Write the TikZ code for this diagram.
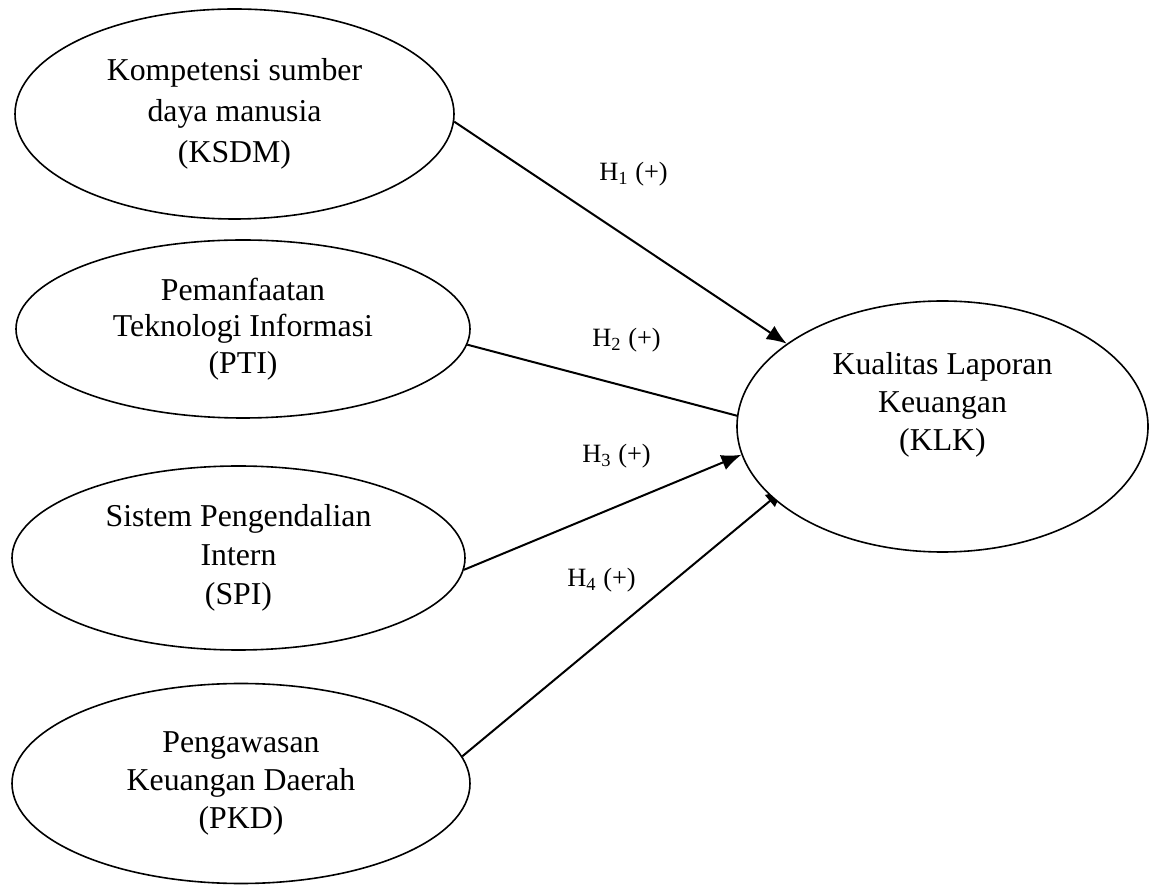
\documentclass[tikz,border=0pt]{standalone}
\usepackage{fontspec}
\setmainfont{Liberation Serif}
\usetikzlibrary{shapes.geometric,arrows.meta,calc,backgrounds}
\begin{document}
\begin{tikzpicture}[x=0.5pt,y=-0.5pt,
  var/.style={ellipse,draw,line width=0.8pt,fill=white,inner sep=0pt,align=center,font=\fontsize{15.9}{19.5}\selectfont},
  hyp/.style={-{Latex[length=10pt,width=8pt]},line width=1pt},
  hlabel/.style={anchor=base west,inner sep=0pt,font=\fontsize{13.2}{15}\selectfont},
  ktext/.style={inner sep=0pt,align=center,font=\fontsize{15.9}{19}\selectfont}]
\useasboundingbox (0,0) rectangle (1151,886);
\node[var,minimum width=219.5pt,minimum height=105pt,font=\fontsize{15.9}{20.5}\selectfont] (ksdm) at (234.5,114) {Kompetensi sumber\\daya manusia\\(KSDM)};
\node[var,minimum width=227pt,minimum height=89pt,font=\fontsize{15.9}{18.3}\selectfont] (pti) at (243,329) {Pemanfaatan\\Teknologi Informasi\\(PTI)};
\node[var,minimum width=226.5pt,minimum height=92pt] (spi) at (238.5,558) {Sistem Pengendalian\\Intern\\(SPI)};
\node[var,minimum width=229pt,minimum height=100pt,font=\fontsize{15.9}{19}\selectfont] (pkd) at (241,783.5) {Pengawasan\\Keuangan Daerah\\(PKD)};
\node[var,minimum width=205.5pt,minimum height=125.5pt] (klk) at (942.5,426.5) {};
\node[ktext] (klktext) at ([yshift=11pt]klk.center) {Kualitas Laporan\\Keuangan\\(KLK)};
\begin{scope}[on background layer]
\draw[hyp] (ksdm.-2) -- (klk.152);
\draw[hyp] (pti.-4.6) -- ($(klk.177.8)!-11pt!(pti.-4.6)$);
\draw[hyp] (spi.-3.5) -- (klk.188.3);
\draw[hyp] (pkd.7.8) -- ($(klk.203.3)!-8pt!(pkd.7.8)$);
\end{scope}
\node[hlabel] (h1) at (599,181) {H\textsubscript{1} (+)};
\node[hlabel] (h2) at (592,347) {H\textsubscript{2} (+)};
\node[hlabel] (h3) at (582,463) {H\textsubscript{3} (+)};
\node[hlabel] (h4) at (567,587) {H\textsubscript{4} (+)};
\end{tikzpicture}
\end{document}
